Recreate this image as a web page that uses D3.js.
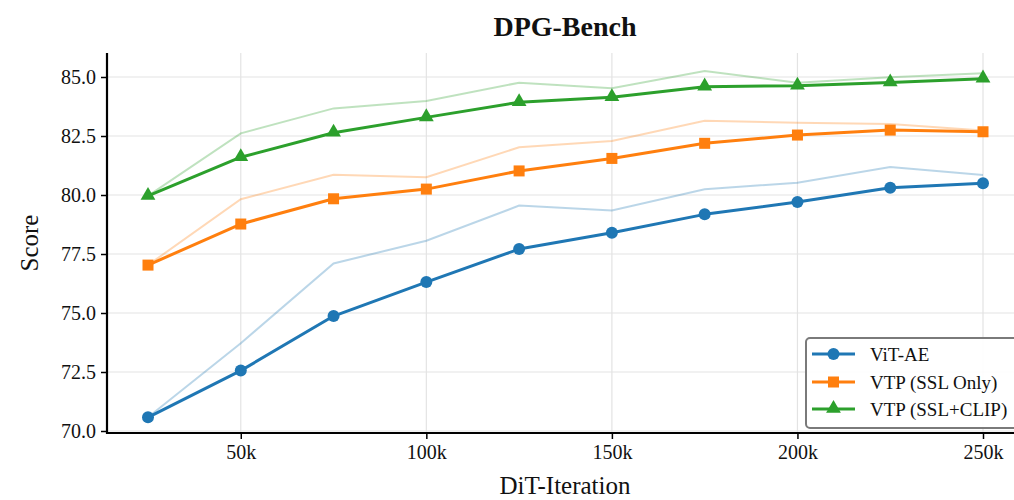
<!DOCTYPE html>
<html>
<head>
<meta charset="utf-8">
<script src="https://cdn.jsdelivr.net/npm/d3@7"></script>
<style>
  html, body { margin: 0; padding: 0; background: #fff; }
  svg { display: block; font-family: "Liberation Serif", "Times New Roman", serif; }
</style>
</head>
<body>
<svg id="chart" width="1014" height="500"></svg>
<script>
// ---- data ----
const iterations = [25000, 50000, 75000, 100000, 125000, 150000, 175000, 200000, 225000, 250000];
const xTickValues = [50000, 100000, 150000, 200000, 250000];
const xTickLabels = ["50k", "100k", "150k", "200k", "250k"];
const yTickValues = [70.0, 72.5, 75.0, 77.5, 80.0, 82.5, 85.0];

const seriesNames = ["ViT-AE", "VTP (SSL Only)", "VTP (SSL+CLIP)"];
const seriesColors = ["#1f77b4", "#ff7f0e", "#2ca02c"];
const seriesMarkers = ["circle", "square", "triangle"];

const vitAE      = [70.58, 72.56, 74.87, 76.31, 77.71, 78.40, 79.18, 79.70, 80.31, 80.50];
const vitAERaw   = [70.58, 73.72, 77.10, 78.06, 79.55, 79.34, 80.24, 80.52, 81.19, 80.85];
const sslOnly    = [77.03, 78.77, 79.84, 80.25, 81.02, 81.55, 82.19, 82.54, 82.75, 82.68];
const sslOnlyRaw = [77.03, 79.82, 80.86, 80.75, 82.02, 82.29, 83.15, 83.06, 83.01, 82.73];
const sslClip    = [79.96, 81.60, 82.64, 83.29, 83.93, 84.14, 84.59, 84.63, 84.77, 84.93];
const sslClipRaw = [79.96, 82.61, 83.67, 83.98, 84.76, 84.52, 85.25, 84.76, 84.99, 85.16];

const mainSeries = [vitAE, sslOnly, sslClip];
const rawSeries = [vitAERaw, sslOnlyRaw, sslClipRaw];

(function () {
// ---- layout ----
const svg = d3.select("#chart");
const pL = 107, pR = 1025, pT = 53, pB = 433;
const serif = "'Liberation Serif', 'Times New Roman', serif";

const x = d3.scaleLinear().domain([25000, 250000]).range([148, 983]);
const y = d3.scaleLinear().domain([70, 85]).range([431, 77]);

// grid
const grid = svg.append("g");
grid.selectAll("line.gy").data(yTickValues).enter().append("line")
  .attr("x1", pL).attr("x2", pR)
  .attr("y1", d => y(d)).attr("y2", d => y(d))
  .attr("stroke", "#e3e3e3").attr("stroke-width", 1.2);
grid.selectAll("line.gx").data(xTickValues).enter().append("line")
  .attr("y1", pT).attr("y2", pB)
  .attr("x1", d => x(d)).attr("x2", d => x(d))
  .attr("stroke", "#e3e3e3").attr("stroke-width", 1.2);

// raw (faint) lines
const line = d3.line().x((d, i) => x(iterations[i])).y(d => y(d));
rawSeries.forEach((s, k) => {
  svg.append("path").datum(s)
    .attr("d", line)
    .attr("fill", "none")
    .attr("stroke", seriesColors[k])
    .attr("stroke-opacity", 0.3)
    .attr("stroke-width", 2);
});

// main lines + markers
function drawMarker(g, type, cx, cy, color) {
  if (type === "circle") {
    g.append("circle").attr("cx", cx).attr("cy", cy).attr("r", 6).attr("fill", color);
  } else if (type === "square") {
    g.append("rect").attr("x", cx - 5.5).attr("y", cy - 5.5).attr("width", 11).attr("height", 11).attr("fill", color);
  } else {
    const sym = d3.symbol().type(d3.symbolTriangle).size(95);
    g.append("path").attr("d", sym()).attr("transform", `translate(${cx},${cy - 0.5})`).attr("fill", color);
  }
}

mainSeries.forEach((s, k) => {
  svg.append("path").datum(s)
    .attr("d", line)
    .attr("fill", "none")
    .attr("stroke", seriesColors[k])
    .attr("stroke-width", 3)
    .attr("stroke-linejoin", "round");
  const g = svg.append("g");
  s.forEach((v, i) => drawMarker(g, seriesMarkers[k], x(iterations[i]), y(v), seriesColors[k]));
});

// axes
const yAxis = svg.append("g").attr("transform", `translate(${pL},0)`)
  .call(d3.axisLeft(y).tickValues(yTickValues).tickFormat(d3.format(".1f")).tickSize(6).tickPadding(5));
const xAxis = svg.append("g").attr("transform", `translate(0,${pB})`)
  .call(d3.axisBottom(x).tickValues(xTickValues).tickFormat((d, i) => xTickLabels[i]).tickSize(6).tickPadding(6));
[yAxis, xAxis].forEach(a => {
  a.attr("font-family", serif).attr("font-size", 20);
  a.select(".domain").remove();
  a.selectAll(".tick line").attr("stroke", "#000").attr("stroke-width", 1.5);
  a.selectAll(".tick text").attr("fill", "#111").style("font-size", "20px")
    .style("font-family", serif);
});
// spines
svg.append("line").attr("x1", pL).attr("x2", pL).attr("y1", pT).attr("y2", pB + 1)
  .attr("stroke", "#000").attr("stroke-width", 2.2);
svg.append("line").attr("x1", pL - 1).attr("x2", pR).attr("y1", pB).attr("y2", pB)
  .attr("stroke", "#000").attr("stroke-width", 2.2);

// title & labels
svg.append("text").attr("x", 565).attr("y", 36).attr("text-anchor", "middle")
  .style("font-size", "28px").style("font-weight", "bold").attr("fill", "#111").text("DPG-Bench");
svg.append("text").attr("x", 565).attr("y", 494).attr("text-anchor", "middle")
  .style("font-size", "25px").attr("fill", "#111").text("DiT-Iteration");
svg.append("text").attr("transform", "translate(38,243) rotate(-90)").attr("text-anchor", "middle")
  .style("font-size", "25px").attr("fill", "#111").text("Score");

// legend
const lg = svg.append("g");
lg.append("rect").attr("x", 806).attr("y", 338).attr("width", 230).attr("height", 90)
  .attr("rx", 4).attr("fill", "#fff").attr("fill-opacity", 0.9)
  .attr("stroke", "#7a7a7a").attr("stroke-width", 2);
const rowY = [354, 382, 409];
seriesNames.forEach((name, k) => {
  lg.append("line").attr("x1", 812).attr("x2", 855).attr("y1", rowY[k]).attr("y2", rowY[k])
    .attr("stroke", seriesColors[k]).attr("stroke-width", 3);
  drawMarker(lg, seriesMarkers[k], 833.5, rowY[k], seriesColors[k]);
  lg.append("text").attr("x", 870).attr("y", rowY[k] + 6.5)
    .style("font-size", "19px").attr("fill", "#111").text(name);
});
})();
</script>
</body>
</html>
